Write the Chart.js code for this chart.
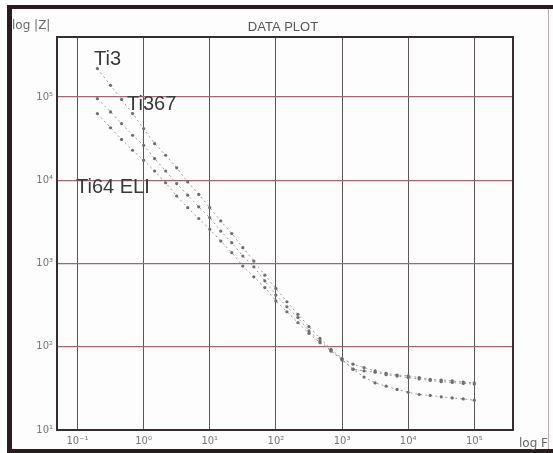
<!DOCTYPE html>
<html>
<head>
<meta charset="utf-8">
<title>DATA PLOT</title>
<script src="https://cdn.jsdelivr.net/npm/chart.js@4.4.1/dist/chart.umd.min.js"></script>
<style>
  html, body { margin: 0; padding: 0; background: #fff; }
  #wrap { width: 553px; height: 453px; }
</style>
</head>
<body>
<div id="wrap"><canvas id="dataPlot" width="553" height="453"></canvas></div>
<script>
// frequency (Hz), 6 points per decade
const freq = [0.2, 0.316, 0.464, 0.681, 1, 1.468, 2.154, 3.162, 4.642, 6.813,
  10, 14.68, 21.54, 31.62, 46.42, 68.13, 100, 146.8, 215.4, 316.2, 464.2, 681.3,
  1000, 1468, 2154, 3162, 4642, 6813, 10000, 14678, 21544, 31623, 46416, 68129, 100000];

// |Z| (ohm)
const ti3 = [219000, 138000, 93300, 63100, 41700, 27500, 19950, 14100, 9550, 6760,
  4680, 3240, 2290, 1550, 1070, 724, 501, 347, 245, 174, 126, 93.3,
  72.4, 61.7, 56.2, 51.3, 47.9, 45.7, 44.7, 42.7, 40.7, 39.8, 38.9, 37.6, 36.8];
const ti367 = [95500, 66100, 47900, 34700, 26300, 18200, 12900, 9120, 6610, 4790,
  3550, 2450, 1780, 1230, 912, 617, 417, 302, 224, 155, 117, 89.1,
  69.2, 53.7, 51.3, 49.5, 46.2, 44.4, 42.6, 41.0, 39.4, 38.1, 37.2, 36.2, 35.6];
const ti64eli = [63100, 42700, 30900, 22900, 17400, 12900, 9330, 6460, 4680, 3470,
  2570, 1860, 1350, 933, 692, 513, 355, 263, 195, 145, 112, 89.1,
  70.8, 53.7, 43.2, 36.8, 33.6, 30.7, 28.4, 26.7, 26.0, 25.0, 24.3, 23.6, 22.8];

const xTickValues = [0.1, 1, 10, 100, 1000, 10000, 100000];
const xTickLabels = ['10⁻¹', '10⁰', '10¹', '10²', '10³', '10⁴', '10⁵'];
const yTickValues = [10, 100, 1000, 10000, 100000];
const yTickLabels = ['10¹', '10²', '10³', '10⁴', '10⁵'];

// curve names, placed in data space
const notes = [
  { text: 'Ti3', x: 0.178, y: 240000 },
  { text: 'Ti367', x: 0.56, y: 69000 },
  { text: 'Ti64 ELI', x: 0.095, y: 7100 }
];

function series(label, values) {
  return {
    label: label,
    data: freq.map((f, i) => ({ x: f, y: values[i] })),
    showLine: true,
    borderColor: '#9a9a9a',
    borderWidth: 1,
    borderDash: [2, 3],
    pointRadius: 1.6,
    pointBackgroundColor: '#6e6e6e',
    pointBorderWidth: 0
  };
}

const framePlugin = {
  id: 'frame',
  beforeDraw(chart) {
    const ctx = chart.ctx;
    ctx.save();
    ctx.fillStyle = '#fdfdfd';
    ctx.fillRect(0, 0, chart.width, chart.height);
    ctx.restore();
  },
  afterDraw(chart) {
    const { ctx, chartArea: a, scales } = chart;
    ctx.save();

    // plot box
    ctx.strokeStyle = '#3a2c2c';
    ctx.lineWidth = 2;
    ctx.strokeRect(a.left, a.top, a.right - a.left, a.bottom - a.top);

    // outer screen frame
    ctx.fillStyle = '#2a1c1e';
    ctx.fillRect(7, 5, 5, 448);
    ctx.fillRect(7, 5, 546, 4);
    ctx.fillRect(7, 449, 546, 4);
    ctx.strokeStyle = '#b8b0b0';
    ctx.lineWidth = 1;
    ctx.beginPath();
    ctx.moveTo(548.5, 9);
    ctx.lineTo(548.5, 449);
    ctx.stroke();

    // title and axis names
    ctx.fillStyle = '#555';
    ctx.textBaseline = 'middle';
    ctx.font = '13px "Liberation Sans"';
    ctx.textAlign = 'center';
    ctx.fillText('DATA PLOT', 283, 27);
    ctx.font = '12px "DejaVu Sans"';
    ctx.textAlign = 'left';
    ctx.fillStyle = '#6a6a6a';
    ctx.fillText('log |Z|', 12, 26);
    ctx.fillText('log F', 519, 444);

    // curve names
    ctx.font = '20px "Liberation Sans"';
    ctx.fillStyle = '#3a3a3a';
    ctx.textBaseline = 'alphabetic';
    notes.forEach(n => {
      ctx.fillText(n.text, scales.x.getPixelForValue(n.x), scales.y.getPixelForValue(n.y));
    });
    ctx.restore();
  }
};

const plotCtx = document.getElementById('dataPlot').getContext('2d');
new Chart(plotCtx, {
  type: 'scatter',
  data: {
    datasets: [
      series('Ti3', ti3),
      series('Ti367', ti367),
      series('Ti64 ELI', ti64eli)
    ]
  },
  options: {
    responsive: false,
    animation: false,
    layout: { padding: { top: 37, right: 40, left: 0, bottom: 0 } },
    plugins: {
      legend: { display: false },
      tooltip: { enabled: false }
    },
    scales: {
      x: {
        type: 'logarithmic',
        min: 0.049,
        max: 385000,
        afterBuildTicks: s => { s.ticks = xTickValues.map(v => ({ value: v })); },
        afterFit: s => { s.height = 23; },
        ticks: {
          autoSkip: false,
          maxRotation: 0,
          padding: 5,
          color: '#777',
          font: { family: 'DejaVu Sans', size: 10 },
          callback: v => xTickLabels[xTickValues.indexOf(v)] ?? ''
        },
        grid: { color: '#5e5656', lineWidth: 1, drawTicks: false },
        border: { display: false }
      },
      y: {
        type: 'logarithmic',
        min: 10,
        max: 525000,
        afterBuildTicks: s => { s.ticks = yTickValues.map(v => ({ value: v })); },
        afterFit: s => { s.width = 57; },
        ticks: {
          autoSkip: false,
          padding: 4,
          color: '#777',
          font: { family: 'DejaVu Sans', size: 10 },
          callback: v => yTickLabels[yTickValues.indexOf(v)] ?? ''
        },
        grid: { color: '#9a6a70', lineWidth: 1.3, drawTicks: false },
        border: { display: false }
      }
    }
  },
  plugins: [framePlugin]
});
</script>
</body>
</html>
